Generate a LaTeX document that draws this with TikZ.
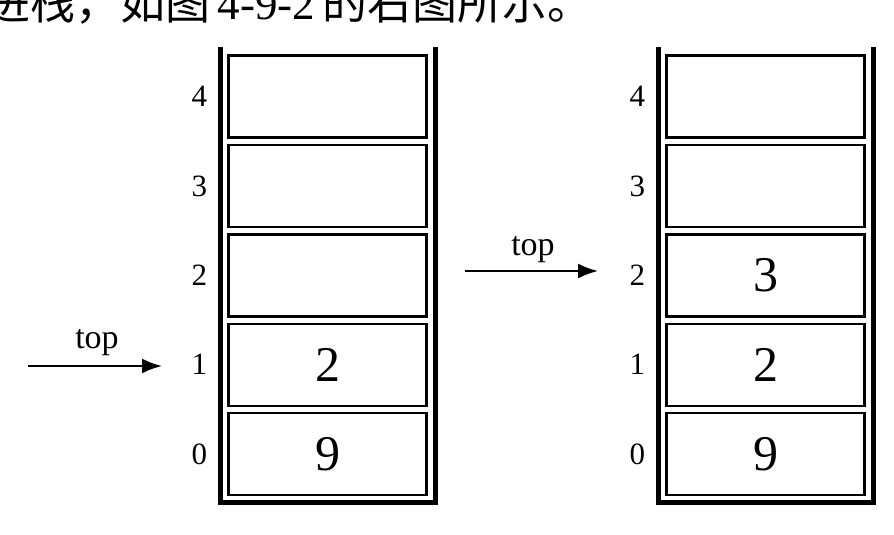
\documentclass[tikz,border=0pt]{standalone}
\usepackage{fontspec}
\setmainfont{Liberation Serif}
\newfontfamily\cjk{Noto Sans CJK SC}
\usetikzlibrary{positioning}
\usetikzlibrary{arrows.meta}

\begin{document}
\begin{tikzpicture}[
    x=1pt, y=-1pt,
    node distance=5pt,
    cell/.style={rectangle,draw=black,line width=2.4pt,minimum width=198pt,minimum height=82pt,inner sep=0pt,font=\fontsize{50}{50}\selectfont},
    idx/.style={inner sep=0pt,font=\fontsize{31}{31}\selectfont},
    toplab/.style={inner sep=0pt,font=\fontsize{34}{34}\selectfont},
    wall/.style={line width=4.5pt,line join=miter},
    arr/.style={line width=2.2pt,-{Latex[length=20pt,width=15pt]}}
    ]
    \useasboundingbox (0,0) rectangle (894,535);
    \node (cap) [anchor=base west,inner sep=0pt,font=\fontsize{45}{45}\selectfont] at (-15,20) {\cjk 进栈，如图\,\rmfamily 4-9-2\,\cjk 的右图所示。};
    % left stack
    \node (l4) [cell] at (327.5,96.5) {};
    \node (l3) [cell,below=of l4] {};
    \node (l2) [cell,below=of l3] {};
    \node (l1) [cell,below=of l2] {2};
    \node (l0) [cell,below=of l1] {9};
    \draw[wall] ([xshift=-7pt,yshift=7pt]l4.north west) -- ([xshift=-7pt,yshift=-6pt]l0.south west) -- ([xshift=8pt,yshift=-6pt]l0.south east) -- ([xshift=8pt,yshift=7pt]l4.north east);
    \node (li4) [idx,left=20pt of l4] {4};
    \node (li3) [idx,left=20pt of l3] {3};
    \node (li2) [idx,left=20pt of l2] {2};
    \node (li1) [idx,left=20pt of l1] {1};
    \node (li0) [idx,left=20pt of l0] {0};
    \coordinate (ltail) at (28,366);
    \coordinate (lhead) at (162,366);
    \draw[arr] (ltail) -- (lhead);
    \node (ltop) [toplab] at (97,343) {top};
    % right stack
    \node (r4) [cell] at (765.5,96.5) {};
    \node (r3) [cell,below=of r4] {};
    \node (r2) [cell,below=of r3] {3};
    \node (r1) [cell,below=of r2] {2};
    \node (r0) [cell,below=of r1] {9};
    \draw[wall] ([xshift=-7pt,yshift=7pt]r4.north west) -- ([xshift=-7pt,yshift=-6pt]r0.south west) -- ([xshift=8pt,yshift=-6pt]r0.south east) -- ([xshift=8pt,yshift=7pt]r4.north east);
    \node (ri4) [idx,left=20pt of r4] {4};
    \node (ri3) [idx,left=20pt of r3] {3};
    \node (ri2) [idx,left=20pt of r2] {2};
    \node (ri1) [idx,left=20pt of r1] {1};
    \node (ri0) [idx,left=20pt of r0] {0};
    \coordinate (rtail) at (465,271);
    \coordinate (rhead) at (598,271);
    \draw[arr] (rtail) -- (rhead);
    \node (rtop) [toplab] at (533,250) {top};
\end{tikzpicture}
\end{document}
